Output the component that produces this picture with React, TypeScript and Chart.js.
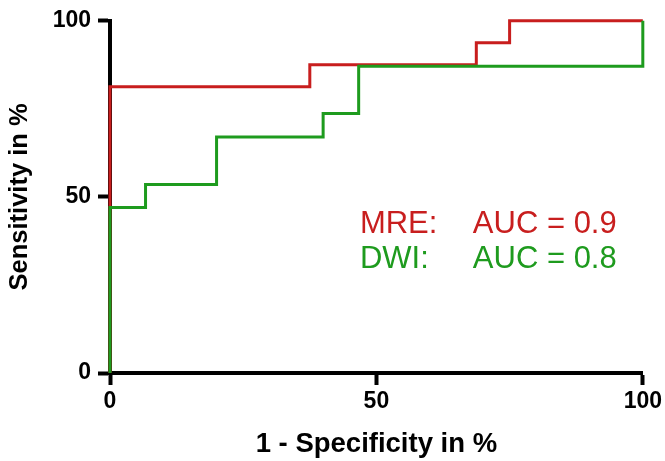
import React, { useEffect, useRef } from "react";
import { Chart, registerables } from "chart.js";

Chart.register(...registerables);

// ROC points (1 - specificity %, sensitivity %)
const fprMRE = [0, 0, 37.5, 68.75, 75, 100];
const tprMRE = [0, 81.25, 87.5, 93.75, 100, 100];
const fprDWI = [0, 0, 6.67, 20, 40, 46.67, 100];
const tprDWI = [0, 47, 53.5, 67, 73.7, 87.1, 100];

const seriesNames = ["MRE", "DWI"];
const aucValues = [0.9, 0.8];
const xTicks = [0, 50, 100];
const yTicks = [0, 50, 100];

const RED = "#c81e1e";
const GREEN = "#1e9b1e";
const FONT = "'Liberation Sans', Arial, Helvetica, sans-serif";

const annotationPlugin = {
  id: "aucText",
  afterDatasetsDraw(chart: any) {
    const { ctx, scales } = chart;
    const xs = scales.x;
    const ys = scales.y;
    const rows = [
      { name: seriesNames[0], auc: aucValues[0], color: RED, y: 39.7 },
      { name: seriesNames[1], auc: aucValues[1], color: GREEN, y: 29.9 },
    ];
    ctx.save();
    ctx.font = `31px ${FONT}`;
    ctx.textBaseline = "alphabetic";
    ctx.textAlign = "left";
    rows.forEach((r) => {
      ctx.fillStyle = r.color;
      const py = ys.getPixelForValue(r.y);
      ctx.fillText(`${r.name}:`, xs.getPixelForValue(46.9), py);
      ctx.fillText(`AUC = ${r.auc}`, xs.getPixelForValue(68.1), py);
    });
    ctx.restore();
  },
};

export default function App() {
  const ref = useRef<HTMLCanvasElement | null>(null);
  useEffect(() => {
    if (!ref.current) return;
    const chart = new Chart(ref.current, {
      type: "line",
      data: {
        datasets: [
          {
            label: seriesNames[1],
            data: fprDWI.map((x, i) => ({ x, y: tprDWI[i] })),
            borderColor: GREEN,
            borderWidth: 3,
            pointRadius: 0,
            stepped: "before",
            fill: false,
            clip: false,
            order: 0,
          },
          {
            label: seriesNames[0],
            data: fprMRE.map((x, i) => ({ x, y: tprMRE[i] })),
            borderColor: RED,
            borderWidth: 3,
            pointRadius: 0,
            stepped: "before",
            fill: false,
            clip: false,
            order: 1,
          },
        ],
      },
      options: {
        animation: false,
        responsive: true,
        maintainAspectRatio: false,
        layout: { padding: { top: 18, right: 22, left: 0, bottom: 0 } },
        plugins: { legend: { display: false }, tooltip: { enabled: false } },
        scales: {
          x: {
            type: "linear",
            min: 0,
            max: 100,
            afterBuildTicks: (s: any) => {
              s.ticks = xTicks.map((v) => ({ value: v }));
            },
            afterFit: (s: any) => {
              s.height = 88;
            },
            grid: {
              drawOnChartArea: false,
              drawTicks: true,
              tickLength: 12,
              tickWidth: 4,
              tickColor: "#000",
            },
            border: { display: true, color: "#000", width: 4 },
            ticks: {
              color: "#000",
              padding: 3,
              maxRotation: 0,
              font: { family: FONT, size: 23, weight: "bold" },
            },
            title: {
              display: true,
              text: "1 - Specificity in %",
              color: "#000",
              padding: { top: 0, bottom: 0 },
              font: { family: FONT, size: 27.5, weight: "bold" },
            },
          },
          y: {
            type: "linear",
            min: 0,
            max: 100,
            afterBuildTicks: (s: any) => {
              s.ticks = yTicks.map((v) => ({ value: v }));
            },
            afterFit: (s: any) => {
              s.width = 110;
            },
            grid: {
              drawOnChartArea: false,
              drawTicks: true,
              tickLength: 12,
              tickWidth: 4,
              tickColor: "#000",
            },
            border: { display: true, color: "#000", width: 4 },
            ticks: {
              color: "#000",
              padding: 7,
              font: { family: FONT, size: 23, weight: "bold" },
            },
            title: {
              display: true,
              text: "Sensitivity in %",
              color: "#000",
              padding: { top: 5, bottom: 0 },
              font: { family: FONT, size: 25.5, weight: "bold" },
            },
          },
        },
      },
      plugins: [annotationPlugin],
    } as any);
    return () => chart.destroy();
  }, []);
  return (
    <div
      style={{
        position: "fixed",
        left: 0,
        top: 0,
        width: 665,
        height: 461,
        background: "#fff",
      }}
    >
      <canvas ref={ref} />
    </div>
  );
}
